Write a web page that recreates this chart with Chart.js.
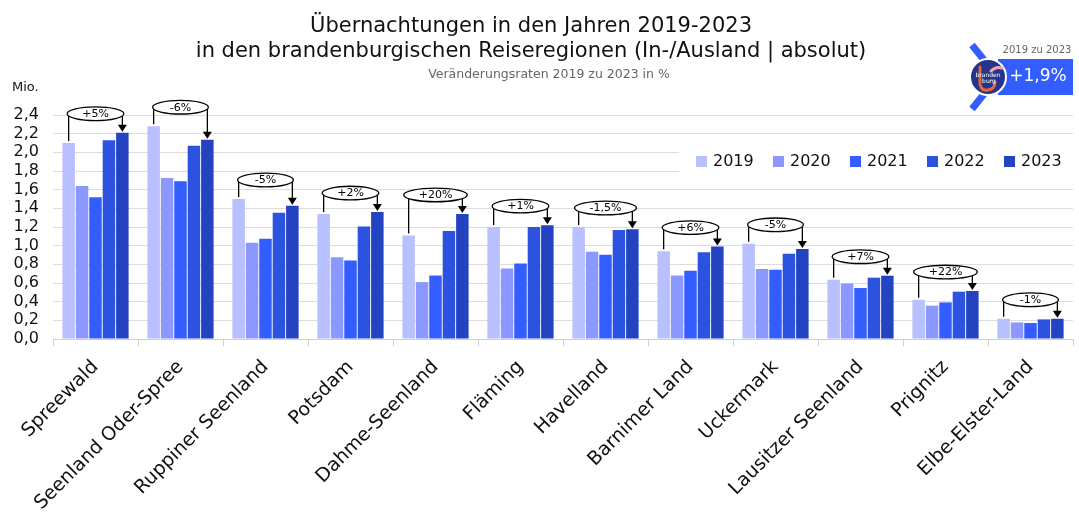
<!DOCTYPE html>
<html lang="de">
<head>
<meta charset="utf-8">
<script src="https://cdn.jsdelivr.net/npm/chart.js@4.4.1/dist/chart.umd.min.js"></script>
<style>
  html, body { margin: 0; padding: 0; background: #fff; }
  #wrap { width: 1079px; height: 516px; }
</style>
</head>
<body>
<div id="wrap"><canvas id="chart" width="1079" height="516"></canvas></div>
<script>
// Übernachtungen in Mio.
const regions = ["Spreewald", "Seenland Oder-Spree", "Ruppiner Seenland", "Potsdam", "Dahme-Seenland", "Fläming",
    "Havelland", "Barnimer Land", "Uckermark", "Lausitzer Seenland", "Prignitz", "Elbe-Elster-Land"];
const years = ["2019", "2020", "2021", "2022", "2023"];
const v2019 = [2.10, 2.28, 1.50, 1.34, 1.11, 1.20, 1.20, 0.94, 1.02, 0.635, 0.42, 0.217];
const v2020 = [1.64, 1.725, 1.03, 0.875, 0.61, 0.755, 0.935, 0.68, 0.75, 0.595, 0.357, 0.178];
const v2021 = [1.52, 1.69, 1.075, 0.84, 0.68, 0.81, 0.903, 0.73, 0.742, 0.546, 0.392, 0.171];
const v2022 = [2.13, 2.07, 1.353, 1.206, 1.157, 1.20, 1.168, 0.93, 0.914, 0.657, 0.507, 0.21];
const v2023 = [2.21, 2.135, 1.428, 1.36, 1.34, 1.22, 1.175, 0.99, 0.964, 0.678, 0.514, 0.217];
const changes = ["+5%", "-6%", "-5%", "+2%", "+20%", "+1%", "-1,5%", "+6%", "-5%", "+7%", "+22%", "-1%"];
const colors = ["#b8c0ff", "#8b98ff", "#335dff", "#2c52e0", "#2443c0"];

const FONT = "'DejaVu Sans', sans-serif";

// Klammern mit Ellipse über jeder Gruppe
const bracketPlugin = {
    id: "brackets",
    afterDatasetsDraw(chart) {
        const ctx = chart.ctx;
        const first = chart.getDatasetMeta(0).data;
        const last = chart.getDatasetMeta(4).data;
        ctx.save();
        ctx.font = "11px " + FONT;
        for (let i = 0; i < regions.length; i++) {
            let top = Infinity;
            for (let d = 0; d < 5; d++) {
                top = Math.min(top, chart.getDatasetMeta(d).data[i].y);
            }
            const x0 = first[i].x, y0 = first[i].y;
            const x4 = last[i].x, y4 = last[i].y;
            const cy = top - 19;
            const cx = (x0 + x4) / 2;
            ctx.strokeStyle = "#000";
            ctx.fillStyle = "#000";
            ctx.lineWidth = 1.3;
            ctx.beginPath();
            ctx.moveTo(x0, cy);
            ctx.lineTo(x0, y0 - 2);
            ctx.moveTo(x4, cy);
            ctx.lineTo(x4, y4 - 7);
            ctx.stroke();
            ctx.beginPath();
            ctx.moveTo(x4 - 4.5, y4 - 8);
            ctx.lineTo(x4 + 4.5, y4 - 8);
            ctx.lineTo(x4, y4 - 1);
            ctx.closePath();
            ctx.fill();
            const tw = ctx.measureText(changes[i]).width;
            const rx = Math.max((x4 - x0) / 2 + 1, tw / 2 + 15);
            ctx.beginPath();
            ctx.ellipse(cx, cy, rx, 6.8, 0, 0, Math.PI * 2);
            ctx.fillStyle = "#fff";
            ctx.fill();
            ctx.stroke();
            ctx.fillStyle = "#000";
            ctx.textAlign = "center";
            ctx.textBaseline = "middle";
            ctx.fillText(changes[i], cx, cy + 0.5);
        }
        ctx.restore();
    }
};

// Titel, Legende, Logo
const decoPlugin = {
    id: "deco",
    afterDraw(chart) {
        const ctx = chart.ctx;
        ctx.save();
        ctx.fillStyle = "#111";
        ctx.textAlign = "center";
        ctx.textBaseline = "alphabetic";
        ctx.font = "21px " + FONT;
        ctx.fillText("Übernachtungen in den Jahren 2019-2023", 531, 32);
        ctx.fillText("in den brandenburgischen Reiseregionen (In-/Ausland | absolut)", 531, 57);
        ctx.fillStyle = "#666";
        ctx.font = "12.5px " + FONT;
        ctx.fillText("Veränderungsraten 2019 zu 2023 in %", 549, 78);

        ctx.fillStyle = "#111";
        ctx.textAlign = "left";
        ctx.font = "13px " + FONT;
        ctx.fillText("Mio.", 12, 91);

        // Legende
        ctx.fillStyle = "#fff";
        ctx.fillRect(679, 140, 394, 44);
        ctx.font = "16px " + FONT;
        ctx.textBaseline = "middle";
        chart.data.datasets.forEach((ds, i) => {
            const x = 696 + i * 77;
            ctx.fillStyle = ds.backgroundColor;
            ctx.fillRect(x, 156, 11, 11);
            ctx.fillStyle = "#111";
            ctx.fillText(ds.label, x + 17, 162);
        });

        // Logo oben rechts
        ctx.fillStyle = "#335dff";
        ctx.fillRect(998, 59, 75, 36);
        ctx.fillStyle = "#fff";
        ctx.textAlign = "center";
        ctx.font = "17px " + FONT;
        ctx.fillText("+1,9%", 1038, 77);
        ctx.fillStyle = "#666";
        ctx.font = "10px " + FONT;
        ctx.fillText("2019 zu 2023", 1037, 50);

        ctx.strokeStyle = "#335dff";
        ctx.lineWidth = 7;
        ctx.beginPath();
        ctx.moveTo(972, 45);
        ctx.lineTo(984, 60);
        ctx.moveTo(984, 94);
        ctx.lineTo(972, 109);
        ctx.stroke();

        ctx.beginPath();
        ctx.arc(988, 77, 18, 0, Math.PI * 2);
        ctx.fillStyle = "#26358c";
        ctx.fill();
        ctx.strokeStyle = "#fff";
        ctx.lineWidth = 2;
        ctx.stroke();

        ctx.strokeStyle = "#e8653a";
        ctx.lineWidth = 3;
        ctx.lineCap = "round";
        ctx.beginPath();
        ctx.moveTo(980, 67);
        ctx.lineTo(980, 84);
        ctx.quadraticCurveTo(981, 91, 988, 90);
        ctx.quadraticCurveTo(995, 89, 995, 82);
        ctx.stroke();
        ctx.strokeStyle = "#f4a3a8";
        ctx.beginPath();
        ctx.moveTo(991, 71);
        ctx.quadraticCurveTo(996, 66, 1002, 68);
        ctx.stroke();
        ctx.fillStyle = "#fff";
        ctx.font = "6px " + FONT;
        ctx.fillText("branden", 988, 75);
        ctx.fillText("burg", 989, 81);
        ctx.restore();
    }
};

const ctx = document.getElementById("chart").getContext("2d");
new Chart(ctx, {
    type: "bar",
    data: {
        labels: regions,
        datasets: [v2019, v2020, v2021, v2022, v2023].map((vals, i) => ({
            label: years[i],
            data: vals,
            backgroundColor: colors[i],
            borderWidth: 0,
            categoryPercentage: 0.79,
            barPercentage: 0.93,
        }))
    },
    options: {
        responsive: false,
        animation: false,
        layout: { padding: { top: 115, right: 6, left: 0, bottom: 0 } },
        plugins: {
            legend: { display: false },
            title: { display: false },
            tooltip: { enabled: false }
        },
        scales: {
            x: {
                afterFit(scale) { scale.height = 177; },
                grid: { drawOnChartArea: false, drawTicks: true, tickLength: 7, color: "#d0d0d0" },
                border: { display: true, color: "#d0d0d0" },
                ticks: {
                    color: "#111",
                    font: { family: FONT, size: 19 },
                    maxRotation: 45,
                    minRotation: 45,
                    autoSkip: false,
                    padding: 10
                }
            },
            y: {
                min: 0,
                max: 2.4,
                afterFit(scale) { scale.width = 53; },
                grid: { color: "#dddddd", drawTicks: false },
                border: { display: false },
                ticks: {
                    stepSize: 0.2,
                    autoSkip: false,
                    padding: 14,
                    color: "#111",
                    font: { family: FONT, size: 16 },
                    callback: v => v.toFixed(1).replace(".", ",")
                }
            }
        }
    },
    plugins: [bracketPlugin, decoPlugin]
});
</script>
</body>
</html>
